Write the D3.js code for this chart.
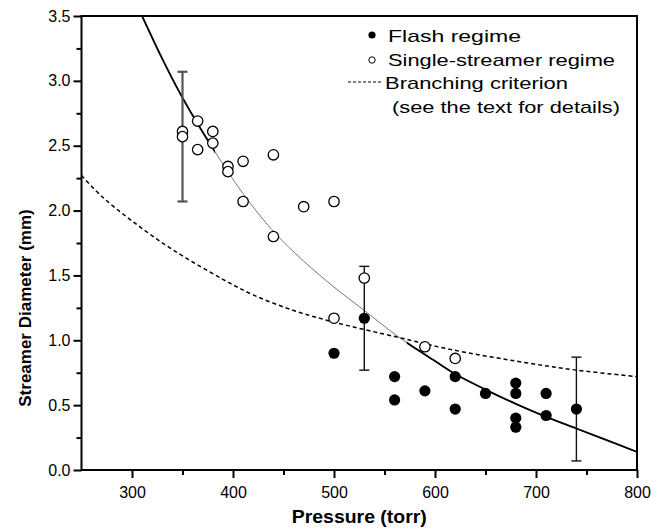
<!DOCTYPE html>
<html>
<head>
<meta charset="utf-8">
<script src="https://cdn.jsdelivr.net/npm/d3@7"></script>
<style>
  body { margin: 0; background: #fff; }
  text { font-family: "Liberation Sans", Arial, sans-serif; }
</style>
</head>
<body>
<div id="graph-holder"></div>
<script>
// single-streamer regime (open circles): [pressure, diameter]
var singleStreamer = [
  [350, 2.61], [350, 2.57], [365, 2.69], [365, 2.47], [380, 2.61], [380, 2.52],
  [395, 2.34], [395, 2.30], [410, 2.38], [410, 2.07], [440, 2.43], [440, 1.80],
  [470, 2.03], [500, 2.07], [500, 1.17], [530, 1.48], [590, 0.95], [620, 0.86]
];

// flash regime (filled circles)
var flash = [
  [500, 0.90], [530, 1.17], [560, 0.72], [560, 0.54], [590, 0.61], [620, 0.72],
  [620, 0.47], [650, 0.59], [680, 0.67], [680, 0.59], [680, 0.40], [680, 0.33],
  [710, 0.59], [710, 0.42], [740, 0.47]
];

// error bars: [pressure, low, high]
var errorBars = [[350, 2.07, 3.07], [530, 0.77, 1.57], [740, 0.07, 0.87]];

// fitted curve
var fitCurve = [
  [310, 3.50], [330, 3.17], [350, 2.87], [380, 2.48], [410, 2.13], [440, 1.84],
  [470, 1.61], [500, 1.41], [530, 1.23], [565, 1.02], [600, 0.84], [620, 0.74],
  [650, 0.62], [680, 0.51], [710, 0.41], [740, 0.32], [770, 0.23], [800, 0.14]
];

// branching criterion (dashed)
var branching = [
  [250, 2.27], [270, 2.11], [300, 1.92], [340, 1.70], [390, 1.47], [420, 1.35],
  [460, 1.23], [500, 1.14], [565, 1.02], [615, 0.93], [680, 0.84], [740, 0.77],
  [800, 0.72]
];

var xTicks = [300, 400, 500, 600, 700, 800];
var yTicks = [0, 0.5, 1.0, 1.5, 2.0, 2.5, 3.0, 3.5];

var margin = { left: 81.5, right: 27, top: 16, bottom: 59 },
  W = 664, H = 529,
  width = W - margin.left - margin.right,
  height = H - margin.top - margin.bottom;

var svg = d3.select("#graph-holder")
  .append("svg")
  .attr("width", W)
  .attr("height", H);

var g = svg.append("g")
  .attr("transform", `translate(${margin.left}, ${margin.top})`);

var x = d3.scaleLinear().domain([250, 800]).range([0, width]);
var y = d3.scaleLinear().domain([0, 3.5]).range([height, 0]);

var defs = svg.append("defs");
defs.append("clipPath").attr("id", "plot-clip")
  .append("rect").attr("width", width).attr("height", height);
// thick parts of the fitted curve
defs.append("clipPath").attr("id", "thick-clip")
  .selectAll("rect")
  .data([[250, 382], [572, 800]])
  .enter()
  .append("rect")
  .attr("x", (d) => x(d[0]))
  .attr("width", (d) => x(d[1]) - x(d[0]))
  .attr("y", 0)
  .attr("height", height);

var line = d3.line()
  .x((d) => x(d[0]))
  .y((d) => y(d[1]))
  .curve(d3.curveCatmullRom.alpha(0.5));

var curves = g.append("g").attr("clip-path", "url(#plot-clip)");

curves.append("path")
  .attr("d", line(fitCurve))
  .attr("fill", "none")
  .attr("stroke", "#777")
  .attr("stroke-width", 1);

curves.append("path")
  .attr("d", line(fitCurve))
  .attr("fill", "none")
  .attr("stroke", "#000")
  .attr("stroke-width", 1.8)
  .attr("clip-path", "url(#thick-clip)");

curves.append("path")
  .attr("d", line(branching))
  .attr("fill", "none")
  .attr("stroke", "#000")
  .attr("stroke-width", 1.5)
  .attr("stroke-dasharray", "4,3");

// error bars
var eb = g.selectAll(".err")
  .data(errorBars)
  .enter()
  .append("g")
  .attr("class", "err")
  .attr("stroke", (d, i) => (i === 0 ? "#555" : "#111"))
  .attr("stroke-width", (d, i) => (i === 0 ? 2.2 : 1.4));

eb.append("line")
  .attr("x1", (d) => x(d[0])).attr("x2", (d) => x(d[0]))
  .attr("y1", (d) => y(d[1])).attr("y2", (d) => y(d[2]));
eb.append("line")
  .attr("x1", (d) => x(d[0]) - 5).attr("x2", (d) => x(d[0]) + 5)
  .attr("y1", (d) => y(d[1])).attr("y2", (d) => y(d[1]));
eb.append("line")
  .attr("x1", (d) => x(d[0]) - 5).attr("x2", (d) => x(d[0]) + 5)
  .attr("y1", (d) => y(d[2])).attr("y2", (d) => y(d[2]));

g.selectAll(".open")
  .data(singleStreamer)
  .enter()
  .append("circle")
  .attr("class", "open")
  .attr("cx", (d) => x(d[0]))
  .attr("cy", (d) => y(d[1]))
  .attr("r", 5.2)
  .attr("fill", "#fff")
  .attr("stroke", "#000")
  .attr("stroke-width", 1.3);

g.selectAll(".filled")
  .data(flash)
  .enter()
  .append("circle")
  .attr("class", "filled")
  .attr("cx", (d) => x(d[0]))
  .attr("cy", (d) => y(d[1]))
  .attr("r", 5.6)
  .attr("fill", "#000");

// axes
var xAxis = d3.axisBottom(x).tickValues(xTicks).tickSize(8).tickFormat(d3.format("d"));
var xMinor = d3.axisBottom(x).tickValues([350, 450, 550, 650, 750]).tickSize(5).tickFormat("");
var yAxis = d3.axisLeft(y).tickValues(yTicks).tickSize(8).tickFormat(d3.format(".1f"));
var yMinor = d3.axisLeft(y).tickValues([0.25, 0.75, 1.25, 1.75, 2.25, 2.75, 3.25]).tickSize(5).tickFormat("");

function styleAxis(sel) {
  sel.select(".domain").remove();
  sel.selectAll("line").attr("stroke", "#000").attr("stroke-width", 2);
  sel.selectAll("text")
    .attr("fill", "#000")
    .style("font-size", "16px");
}

g.append("g").attr("transform", `translate(0, ${height})`).call(xAxis).call(styleAxis)
  .selectAll("text").attr("dy", "1.05em");
g.append("g").attr("transform", `translate(0, ${height})`).call(xMinor).call(styleAxis);
g.append("g").call(yAxis).call(styleAxis)
  .selectAll("text").attr("x", -11);
g.append("g").call(yMinor).call(styleAxis);

// frame
g.append("rect")
  .attr("width", width)
  .attr("height", height)
  .attr("fill", "none")
  .attr("stroke", "#000")
  .attr("stroke-width", 2);

// axis titles
g.append("text")
  .attr("x", width / 2)
  .attr("y", height + 53)
  .attr("text-anchor", "middle")
  .style("font-size", "18px")
  .style("font-weight", "bold")
  .attr("textLength", 135)
  .attr("lengthAdjust", "spacingAndGlyphs")
  .text("Pressure (torr)");

svg.append("text")
  .attr("transform", "translate(31, 308) rotate(-90)")
  .attr("text-anchor", "middle")
  .style("font-size", "17px")
  .style("font-weight", "bold")
  .text("Streamer Diameter (mm)");

// legend
var legend = svg.append("g");
legend.append("circle").attr("cx", 372).attr("cy", 35).attr("r", 3.6).attr("fill", "#000");
legend.append("circle").attr("cx", 372).attr("cy", 60).attr("r", 3.2)
  .attr("fill", "#fff").attr("stroke", "#000").attr("stroke-width", 1);
legend.append("line").attr("x1", 348).attr("x2", 383).attr("y1", 82).attr("y2", 82)
  .attr("stroke", "#000").attr("stroke-width", 1).attr("stroke-dasharray", "3,2");

var legendRows = [
  { t: "Flash regime", x: 388, y: 42, w: 133 },
  { t: "Single-streamer regime", x: 388, y: 66, w: 227 },
  { t: "Branching criterion", x: 385, y: 89, w: 183 },
  { t: "(see the text for details)", x: 392, y: 113, w: 228 }
];
legend.selectAll("text.leg")
  .data(legendRows)
  .enter()
  .append("text")
  .attr("class", "leg")
  .attr("x", (d) => d.x)
  .attr("y", (d) => d.y)
  .attr("textLength", (d) => d.w)
  .attr("lengthAdjust", "spacingAndGlyphs")
  .style("font-size", "17px")
  .text((d) => d.t);
</script>
</body>
</html>
